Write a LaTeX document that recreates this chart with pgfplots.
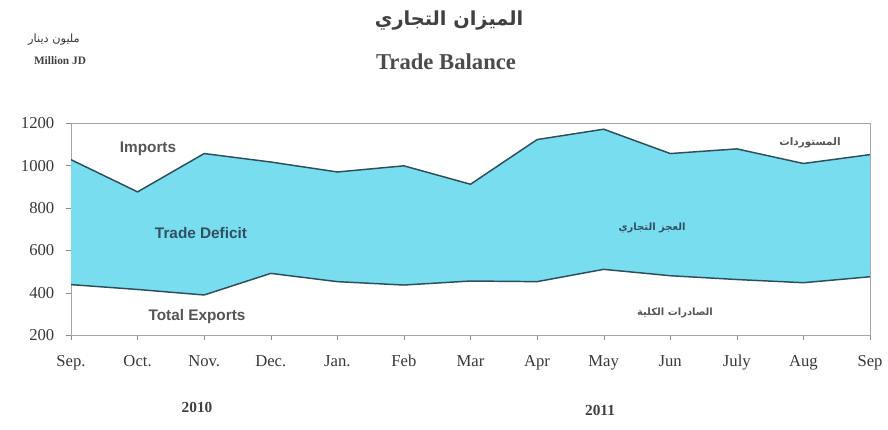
\documentclass[border=0pt]{standalone}
\usepackage{pgfplots}
\pgfplotsset{compat=1.18}
\usepackage{fontspec}
\setmainfont{Liberation Serif}
\newfontfamily\sansf{Liberation Sans}
\newfontfamily\arabicfont[Script=Arabic]{DejaVu Sans}
\TeXXeTstate=1
\definecolor{deficit}{RGB}{120,221,238}
\definecolor{edge}{RGB}{45,78,92}
\definecolor{txt}{RGB}{85,85,85}
\definecolor{deftxt}{RGB}{50,80,95}
\begin{document}
\begin{tikzpicture}
\useasboundingbox (0,0) rectangle (666pt,321.75pt);
\begin{axis}[
    at={(53.25pt,70.5pt)}, anchor=south west,
    scale only axis,
    width=599.25pt, height=158.8pt,
    xmin=0, xmax=12, ymin=200, ymax=1200,
    xtick={0,...,12},
    xticklabels={Sep.,Oct.,Nov.,Dec.,Jan.,Feb,Mar,Apr,May,Jun,July,Aug,Sep},
    ytick={200,400,...,1200},
    xtick pos=bottom, ytick pos=left,
    tick align=outside,
    major tick length=4pt,
    axis line style={black!35},
    tick style={black!45},
    every tick label/.append style={font=\fontsize{12.5}{15}\selectfont, text=black!78},
    xticklabel style={yshift=-9pt, text height=1.6ex, text depth=0.5ex},
    yticklabel style={xshift=-5pt},
    /pgf/number format/assume math mode=true,
    /pgf/number format/1000 sep={},
  ]
  % deficit band: imports forward, exports backward
  \addplot[fill=deficit, draw=none] coordinates {
    (0,1028) (1,876) (2,1057) (3,1017) (4,970) (5,999) (6,912)
    (7,1123) (8,1172) (9,1057) (10,1079) (11,1010) (12,1052)
    (12,475) (11,447) (10,462) (9,480) (8,510) (7,452) (6,455)
    (5,436) (4,452) (3,491) (2,389) (1,415) (0,438)
  } -- cycle;
  \addplot[draw=edge, line width=1.1pt] coordinates {
    (0,1028) (1,876) (2,1057) (3,1017) (4,970) (5,999) (6,912)
    (7,1123) (8,1172) (9,1057) (10,1079) (11,1010) (12,1052)
  };
  \addplot[draw=edge, line width=1.1pt] coordinates {
    (0,438) (1,415) (2,389) (3,491) (4,452) (5,436) (6,455)
    (7,452) (8,510) (9,480) (10,462) (11,447) (12,475)
  };
\end{axis}
% titles
\node[font=\arabicfont\bfseries\fontsize{14.5}{18}\selectfont, text=black!75] at (336.75pt,306pt) {\beginR الميزان التجاري\endR};
\node[font=\bfseries\fontsize{17}{20}\selectfont, text=black!70] at (334.5pt,275.25pt) {Trade Balance};
\node[font=\arabicfont\fontsize{8.5}{10}\selectfont, text=black!80] at (40.5pt,292pt) {\beginR مليون دينار\endR};
\node[font=\bfseries\fontsize{8.5}{11}\selectfont, text=black!75] at (45pt,276pt) {Million JD};
% inner labels
\node[font=\sansf\bfseries\fontsize{11.5}{13}\selectfont, text=txt] at (111pt,210pt) {Imports};
\node[font=\sansf\bfseries\fontsize{11.5}{13}\selectfont, text=deftxt] at (150.75pt,147pt) {Trade Deficit};
\node[font=\sansf\bfseries\fontsize{11.5}{13}\selectfont, text=txt] at (147.75pt,84pt) {Total Exports};
\node[font=\arabicfont\bfseries\fontsize{7.8}{10}\selectfont, text=txt] at (607.5pt,214.5pt) {\beginR المستوردات\endR};
\node[font=\arabicfont\bfseries\fontsize{7.5}{10}\selectfont, text=deftxt] at (489pt,150.75pt) {\beginR العجز التجاري\endR};
\node[font=\arabicfont\bfseries\fontsize{7.5}{10}\selectfont, text=txt] at (506.25pt,87pt) {\beginR الصادرات الكلية\endR};
% years
\node[font=\bfseries\fontsize{11.5}{13}\selectfont, text=black!75] at (147.75pt,16.5pt) {2010};
\node[font=\bfseries\fontsize{11.5}{13}\selectfont, text=black!75] at (450pt,14.25pt) {2011};
\end{tikzpicture}
\end{document}
